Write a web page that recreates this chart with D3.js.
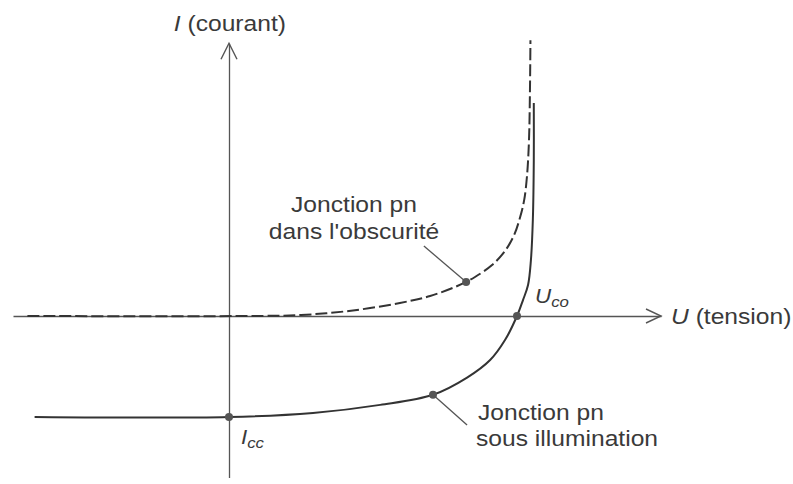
<!DOCTYPE html>
<html>
<head>
<meta charset="utf-8">
<script src="https://cdn.jsdelivr.net/npm/d3@7"></script>
<style>
  body { margin: 0; background: #fff; }
  svg { display: block; }
  text { font-family: "Liberation Sans", Arial, sans-serif; fill: #3a3a3a; }
</style>
</head>
<body>
<svg id="chart" width="793" height="484"></svg>
<script>
// I(U) characteristic of a pn junction, in the dark and under illumination.
// Voltage U in volts, current I in mA.
const darkU = [-0.42, 0.04, 0.15, 0.25, 0.356, 0.419, 0.471, 0.494, 0.5125, 0.548, 0.575, 0.594, 0.606, 0.615, 0.621, 0.625, 0.627, 0.628];
const darkI = [0, 0, 0.1, 0.5, 1.29, 1.98, 2.87, 3.37, 3.86, 5.05, 6.44, 8.02, 9.70, 11.49, 13.96, 17.43, 22.38, 27.3];

const lightU = [-0.405, 0, 0.175, 0.315, 0.425, 0.496, 0.544, 0.575, 0.60, 0.6125, 0.623, 0.629, 0.633, 0.635, 0.635];
const lightI = [-10, -10, -9.6, -8.8, -7.8, -6.1, -4.36, -2.38, 0, 1.58, 3.07, 5.54, 9.5, 15.4, 21.1];

const Uco = 0.6;    // open-circuit voltage
const Icc = -10;    // short-circuit current
const darkMarker = [0.494, 3.37];
const lightMarker = [0.425, -7.8];

const axisLabelU = ["U", " (tension)"];
const axisLabelI = ["I", " (courant)"];
const darkLabel = ["Jonction pn", "dans l'obscurité"];
const lightLabel = ["Jonction pn", "sous illumination"];

const svg = d3.select("#chart");
const x = d3.scaleLinear().domain([-0.45, 0.9]).range([13, 661]);
const y = d3.scaleLinear().domain([-16, 27]).range([477.6, 43.3]);

const axisColor = "#555";
const curveColor = "#333";
const sx = 1.12; // slightly wide lettering

// Axes: bare domain lines, no ticks
const gx = svg.append("g").attr("transform", `translate(0,${y(0)})`)
  .call(d3.axisBottom(x).tickValues([]).tickSizeOuter(0));
const gy = svg.append("g").attr("transform", `translate(${x(0)},0)`)
  .call(d3.axisLeft(y).tickValues([]).tickSizeOuter(0));
[gx, gy].forEach(g => g.select(".domain").attr("stroke", axisColor).attr("stroke-width", 1.3));

// Open arrowheads
const xEnd = x.range()[1], y0 = y(0);
svg.append("polyline")
  .attr("points", `${xEnd - 15},${y0 - 7} ${xEnd},${y0} ${xEnd - 15},${y0 + 7}`)
  .attr("fill", "none").attr("stroke", axisColor).attr("stroke-width", 1.4);
const yTop = y.range()[1], x0 = x(0);
svg.append("polyline")
  .attr("points", `${x0 - 8},${yTop + 16} ${x0},${yTop} ${x0 + 8},${yTop + 16}`)
  .attr("fill", "none").attr("stroke", axisColor).attr("stroke-width", 1.4);

// Curves
const line = d3.line().x(d => x(d[0])).y(d => y(d[1])).curve(d3.curveCatmullRom.alpha(0.5));
const dark = darkU.map((u, i) => [u, darkI[i]]);
const light = lightU.map((u, i) => [u, lightI[i]]);

svg.append("path").attr("d", line(dark))
  .attr("fill", "none").attr("stroke", curveColor).attr("stroke-width", 2)
  .attr("stroke-dasharray", "12,4");
svg.append("path").attr("d", line(light))
  .attr("fill", "none").attr("stroke", curveColor).attr("stroke-width", 2);

// Leader lines
const leaders = [
  [darkMarker, [0.406, 6.93]],
  [lightMarker, [0.496, -10.8]]
];
leaders.forEach(([a, b]) => {
  svg.append("line")
    .attr("x1", x(a[0])).attr("y1", y(a[1]))
    .attr("x2", x(b[0])).attr("y2", y(b[1]))
    .attr("stroke", "#555").attr("stroke-width", 1.3);
});

// Markers
const markers = [darkMarker, lightMarker, [Uco, 0], [0, Icc]];
svg.selectAll("circle.m").data(markers).enter().append("circle")
  .attr("class", "m")
  .attr("cx", d => x(d[0])).attr("cy", d => y(d[1]))
  .attr("r", 4).attr("fill", "#555");

// Text helper: horizontally widened text
function label(px, py, str, opts = {}) {
  const t = svg.append("text")
    .attr("transform", `translate(${px},${py}) scale(${sx},1)`)
    .attr("font-size", opts.size || 22)
    .attr("text-anchor", opts.anchor || "start");
  if (opts.italic) t.attr("font-style", "italic");
  t.text(str);
  return t;
}
function labelSub(px, py, main, sub, size, subSize) {
  const t = svg.append("text")
    .attr("transform", `translate(${px},${py}) scale(${sx},1)`)
    .attr("font-size", size).attr("font-style", "italic");
  t.append("tspan").text(main);
  t.append("tspan").attr("font-size", subSize).attr("dy", 4).text(sub);
}

// Axis titles
{
  const t = svg.append("text")
    .attr("transform", `translate(${xEnd + 10},${y0 + 8}) scale(${sx},1)`)
    .attr("font-size", 22);
  t.append("tspan").attr("font-style", "italic").text(axisLabelU[0]);
  t.append("tspan").text(axisLabelU[1]);
}
{
  const t = svg.append("text")
    .attr("transform", `translate(${x0 + 57},31) scale(${sx},1)`)
    .attr("font-size", 22).attr("text-anchor", "end");
  t.append("tspan").attr("font-style", "italic").text(axisLabelI[0]);
  t.append("tspan").text(axisLabelI[1]);
}

// Point labels
labelSub(x(Uco) + 18, y0 - 13, "U", "co", 20, 15);
labelSub(x0 + 12, y(Icc) + 27, "I", "cc", 20, 15);

// Curve captions
label(354, 212, darkLabel[0], { anchor: "middle" });
label(354, 239, darkLabel[1], { anchor: "middle" });
label(478, 420, lightLabel[0]);
label(476, 446, lightLabel[1]);
</script>
</body>
</html>
